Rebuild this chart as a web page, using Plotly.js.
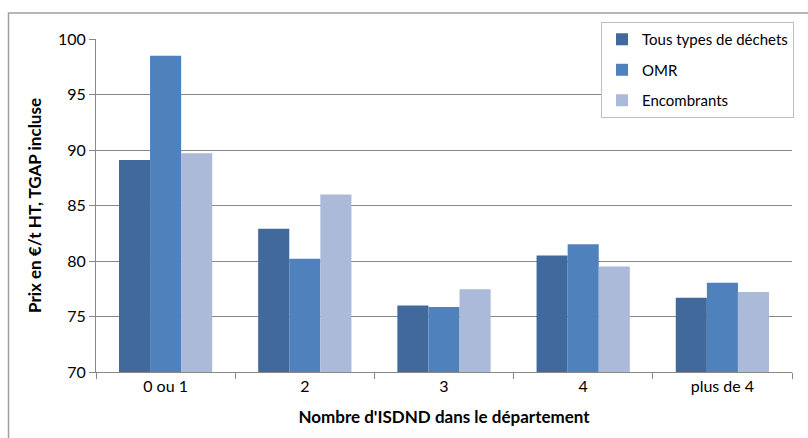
<!DOCTYPE html>
<html>
<head>
<meta charset="utf-8">
<script src="https://cdn.plot.ly/plotly-3.0.1.min.js"></script>
<style>html,body{margin:0;padding:0;background:#fff;}#chart{width:808px;height:438px;}</style>
</head>
<body>
<div id="chart"></div>
<script>
const categories = ["0 ou 1", "2", "3", "4", "plus de 4"];
const tousTypes = [89.1, 82.9, 76.0, 80.5, 76.7];
const omr = [98.5, 80.2, 75.85, 81.5, 78.05];
const encombrants = [89.7, 86.0, 77.45, 79.5, 77.2];
const seriesNames = ["Tous types de déchets", "OMR", "Encombrants"];
const colors = ["#41699b", "#4f81bd", "#abbad8"];

const font = "Lato, 'Open Sans', sans-serif";
const data = [tousTypes, omr, encombrants].map((vals, i) => ({
  type: "bar",
  x: categories,
  y: vals,
  name: seriesNames[i],
  legendgroup: "g" + i,
  marker: {color: colors[i], line: {width: 0}}
}));

const layout = {
  width: 808, height: 438,
  margin: {l: 96, r: 16, t: 39, b: 66},
  paper_bgcolor: "#ffffff", plot_bgcolor: "#ffffff",
  font: {family: font, size: 16, color: "#000"},
  barmode: "group",
  bargap: 0.33, bargroupgap: 0,
  showlegend: true,
  legend: {
    x: 0.7256, y: 1.051, xanchor: "left", yanchor: "top",
    bgcolor: "#ffffff", bordercolor: "#bfbfbf", borderwidth: 1,
    font: {family: font, size: 15, color: "#000"},
    traceorder: "grouped", tracegroupgap: 8
  },
  xaxis: {
    type: "category",
    showline: true, linecolor: "#888", linewidth: 1,
    ticks: "outside", tickson: "boundaries", ticklen: 6, tickcolor: "#888",
    showgrid: false,
    tickfont: {family: font, size: 16, color: "#000"},
    title: {text: "<b>Nombre d'ISDND dans le département</b>", font: {family: font, size: 17, color: "#000"}, standoff: 16}
  },
  yaxis: {
    range: [70, 100], dtick: 5, tick0: 70,
    showline: true, linecolor: "#888", linewidth: 1,
    ticks: "outside", ticklen: 6, tickcolor: "#888",
    showgrid: true, gridcolor: "#888", gridwidth: 1,
    zeroline: false,
    tickfont: {family: font, size: 16, color: "#000"},
    title: {text: "<b>Prix en €/t HT, TGAP incluse</b>", font: {family: font, size: 17, color: "#000"}, standoff: 12}
  },
  shapes: [{
    type: "rect", xref: "paper", yref: "paper",
    x0: -0.1257, x1: 1.2, y0: -0.4, y1: 1.078,
    line: {color: "#a0a0a0", width: 1.5}, fillcolor: "rgba(0,0,0,0)", layer: "below"
  }]
};

Plotly.newPlot("chart", data, layout, {displayModeBar: false, staticPlot: true});
</script>
</body>
</html>
